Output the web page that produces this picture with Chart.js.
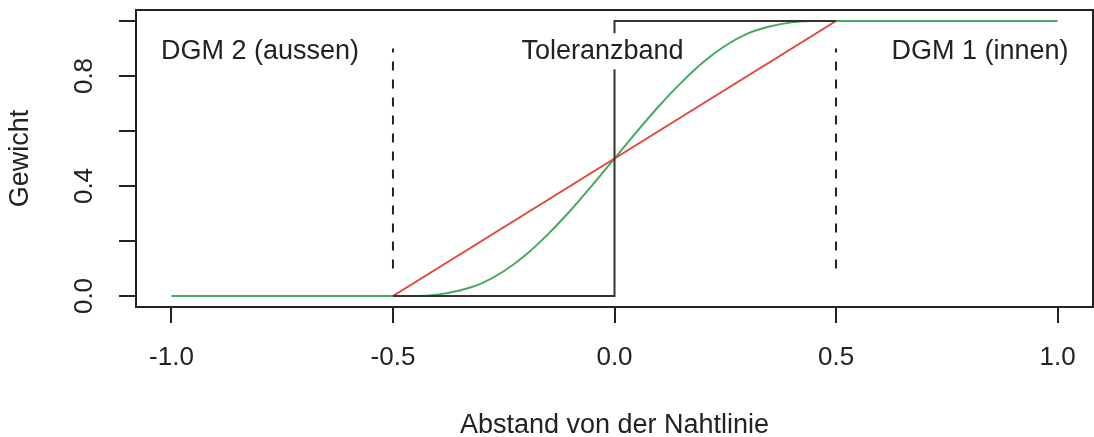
<!DOCTYPE html>
<html>
<head>
<meta charset="utf-8">
<script src="https://cdn.jsdelivr.net/npm/chart.js@4/dist/chart.umd.min.js"></script>
<style>
    body { margin: 0; background: #fff; }
    #wrap { width: 1094px; height: 437px; }
</style>
</head>
<body>
<div id="wrap"><canvas id="chart" width="1094" height="437"></canvas></div>
<script>
// Data
const xTicks = [-1, -0.5, 0, 0.5, 1];
const xTickLabels = ['-1.0', '-0.5', '0.0', '0.5', '1.0'];
const yTicks = [0, 0.2, 0.4, 0.6, 0.8, 1.0];
const yTickLabels = ['0.0', '', '0.4', '', '0.8', ''];

// black step (hard switch at the seam line)
const stepX = [-0.5, 0, 0, 0.5];
const stepY = [0, 0, 1, 1];

// red linear weight
const linearX = [-0.5, 0.5];
const linearY = [0, 1];

// green smooth weight
const smoothX = [-1, -0.45, -0.4, -0.35, -0.3, -0.25, -0.2, -0.15, -0.1, -0.05, 0, 0.05, 0.1, 0.15, 0.2, 0.25, 0.3, 0.35, 0.4, 0.45, 1];
const smoothY = [0, 0, 0.005, 0.02, 0.046, 0.09, 0.15, 0.225, 0.31, 0.403, 0.5, 0.597, 0.69, 0.775, 0.85, 0.91, 0.954, 0.98, 0.995, 1, 1];

// dashed limits of the tolerance band
const bandLeftX = [-0.5, -0.5];
const bandRightX = [0.5, 0.5];
const bandY = [0.1, 0.9];

const noteLabels = ['DGM 2 (aussen)', 'Toleranzband', 'DGM 1 (innen)'];

const ink = '#222';
const fontFamily = "'Liberation Sans', Arial, Helvetica, sans-serif";

function toPoints(xs, ys) {
    return xs.map((x, i) => ({ x: x, y: ys[i] }));
}

// frame around the plot region, like R's box()
const boxPlugin = {
    id: 'box',
    afterDraw(chart) {
        const { ctx, chartArea } = chart;
        ctx.save();
        ctx.strokeStyle = ink;
        ctx.lineWidth = 2;
        ctx.strokeRect(chartArea.left, chartArea.top, chartArea.right - chartArea.left, chartArea.bottom - chartArea.top);
        ctx.restore();
    }
};

// region labels, with a white background like the original
const notesPlugin = {
    id: 'notes',
    afterDatasetsDraw(chart) {
        const { ctx, scales } = chart;
        const spots = [[-0.8, 0.89], [-0.027, 0.89], [0.825, 0.89]];
        ctx.save();
        ctx.font = '27px ' + fontFamily;
        ctx.textAlign = 'center';
        ctx.textBaseline = 'middle';
        noteLabels.forEach((txt, i) => {
            const px = scales.x.getPixelForValue(spots[i][0]);
            const py = scales.y.getPixelForValue(spots[i][1]);
            const w = ctx.measureText(txt).width;
            ctx.fillStyle = '#fff';
            ctx.fillRect(px - w / 2 - 3, py - 18, w + 6, 36);
            ctx.fillStyle = ink;
            ctx.fillText(txt, px, py);
        });
        ctx.restore();
    }
};

const ctx = document.getElementById('chart');
new Chart(ctx, {
    type: 'scatter',
    data: {
        datasets: [
            {
                data: toPoints(stepX, stepY),
                showLine: true,
                borderColor: '#333',
                borderWidth: 2,
                pointRadius: 0
            },
            {
                data: toPoints(linearX, linearY),
                showLine: true,
                borderColor: '#e5433a',
                borderWidth: 2,
                pointRadius: 0
            },
            {
                data: toPoints(smoothX, smoothY),
                showLine: true,
                borderColor: '#45aa5f',
                borderWidth: 2,
                pointRadius: 0,
                cubicInterpolationMode: 'monotone'
            },
            {
                data: toPoints(bandLeftX, bandY),
                showLine: true,
                borderColor: ink,
                borderWidth: 2,
                borderDash: [9, 9],
                pointRadius: 0
            },
            {
                data: toPoints(bandRightX, bandY),
                showLine: true,
                borderColor: ink,
                borderWidth: 2,
                borderDash: [9, 9],
                pointRadius: 0
            }
        ]
    },
    options: {
        responsive: false,
        animation: false,
        layout: {
            padding: { top: 10, right: 1, left: 0, bottom: 0 }
        },
        plugins: {
            legend: { display: false },
            tooltip: { enabled: false }
        },
        scales: {
            x: {
                type: 'linear',
                min: -1.08,
                max: 1.08,
                afterBuildTicks: s => { s.ticks = xTicks.map(v => ({ value: v })); },
                afterFit: s => { s.height = 130; s.paddingLeft = 0; s.paddingRight = 0; },
                border: { display: false },
                grid: {
                    drawOnChartArea: false,
                    drawTicks: true,
                    tickLength: 16,
                    tickColor: ink,
                    lineWidth: 2
                },
                ticks: {
                    padding: 19,
                    color: ink,
                    font: { size: 26, family: fontFamily },
                    maxRotation: 0,
                    callback: (v) => xTickLabels[xTicks.indexOf(v)]
                },
                title: {
                    display: true,
                    text: 'Abstand von der Nahtlinie',
                    color: ink,
                    font: { size: 27, family: fontFamily },
                    padding: { top: 0, bottom: -5 }
                }
            },
            y: {
                type: 'linear',
                min: -0.04,
                max: 1.04,
                afterBuildTicks: s => { s.ticks = yTicks.map(v => ({ value: v })); },
                afterFit: s => { s.width = 136; s.paddingTop = 0; s.paddingBottom = 0; },
                border: { display: false },
                grid: {
                    drawOnChartArea: false,
                    drawTicks: true,
                    tickLength: 17,
                    tickColor: ink,
                    lineWidth: 2
                },
                ticks: {
                    padding: 16,
                    color: ink,
                    crossAlign: 'center',
                    minRotation: 90,
                    maxRotation: 90,
                    font: { size: 26, family: fontFamily },
                    callback: (v) => yTickLabels[yTicks.indexOf(v)]
                },
                title: {
                    display: true,
                    text: 'Gewicht',
                    color: ink,
                    font: { size: 27, family: fontFamily },
                    padding: { top: 4, bottom: 0 }
                }
            }
        }
    },
    plugins: [boxPlugin, notesPlugin]
});
</script>
</body>
</html>
